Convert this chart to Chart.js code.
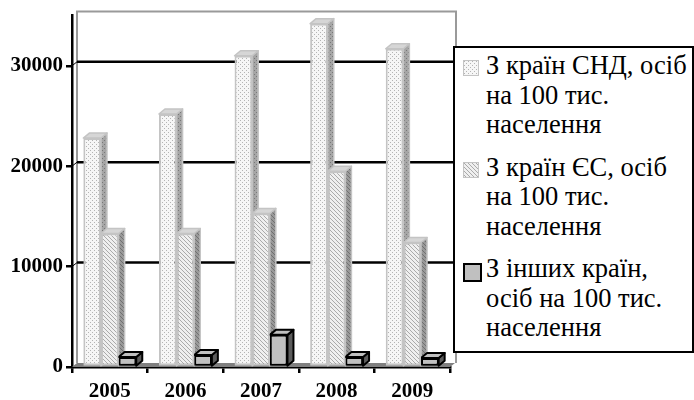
<!DOCTYPE html>
<html>
<head>
<meta charset="utf-8">
<script src="https://cdn.jsdelivr.net/npm/chart.js@4/dist/chart.umd.min.js"></script>
<style>
  body { margin: 0; background: #fff; }
  #wrap { position: relative; width: 694px; height: 400px; }
  #legend {
    position: absolute; left: 453px; top: 46px; width: 237px; height: 303px;
    border: 2px solid #000; background: #fff;
  }
  .item {
    position: relative; padding-left: 31px; margin-top: 3px; margin-bottom: 13px;
    font-family: "Liberation Serif", "Times New Roman", serif;
    font-size: 26.5px; line-height: 29.5px; color: #000;
  }
  .sw { position: absolute; left: 8px; top: 9px; width: 14px; height: 14px; border: 1.5px solid #c4c4c4; }
</style>
</head>
<body>
<div id="wrap">
  <canvas id="chart-bars"></canvas>
  <div id="legend"></div>
</div>
<script>
// data
const years = ["2005", "2006", "2007", "2008", "2009"];
const cisValues = [22800, 25200, 31000, 34200, 31700];
const euValues = [13300, 13300, 15300, 19500, 12400];
const otherValues = [1000, 1200, 3200, 1000, 900];
const yTicks = [0, 10000, 20000, 30000];
const legendLines = [
  ["З країн СНД, осіб", "на 100 тис.", "населення"],
  ["З країн ЄС, осіб", "на 100 тис.", "населення"],
  ["З інших країн,", "осіб на 100 тис.", "населення"]
];

// little fill textures like the old office patterns
function tile(bg, ink, kind) {
  var c = document.createElement("canvas");
  c.width = 4; c.height = 4;
  var g = c.getContext("2d");
  g.fillStyle = bg; g.fillRect(0, 0, 4, 4);
  g.fillStyle = ink;
  if (kind === "dots") {
    g.fillRect(0, 0, 1, 1); g.fillRect(2, 2, 1, 1);
  } else {
    for (var i = 0; i < 4; i++) g.fillRect(i, i, 1, 1);
  }
  return c;
}
var ctx = document.getElementById("chart-bars").getContext("2d");
var cisTile = tile("#f6f6f6", "#b4b4b4", "dots");
var euTile = tile("#efefef", "#aaaaaa", "hatch");
var cisFront = ctx.createPattern(cisTile, "repeat");
var euFront = ctx.createPattern(euTile, "repeat");
var cisSide = ctx.createPattern(tile("#a6a6a6", "#787878", "dots"), "repeat");
var euSide = ctx.createPattern(tile("#999999", "#707070", "hatch"), "repeat");

const faces = [
  { side: cisSide, top: "#d6d6d6", edge: "#c4c4c4", lw: 1.5 },
  { side: euSide, top: "#d6d6d6", edge: "#c4c4c4", lw: 1.5 },
  { side: "#5c5c5c", top: "#c0c0c0", edge: "#000", lw: 2 }
];

const DX = 6, DY = 5;   // bar depth
const WX = 5, WY = 4;   // back wall offset

const depth3d = {
  id: "depth3d",
  beforeDatasetsDraw(chart) {
    const c = chart.ctx;
    const xs = chart.scales.x, ys = chart.scales.y;
    const left = xs.left, right = xs.right;
    const bottom = ys.getPixelForValue(0), top = ys.top;
    c.save();
    // floor
    c.fillStyle = "#808080";
    c.beginPath();
    c.moveTo(left, bottom); c.lineTo(left + WX, bottom - WY);
    c.lineTo(right + WX, bottom - WY); c.lineTo(right, bottom);
    c.closePath(); c.fill();
    // wall
    c.strokeStyle = "#9a9a9a"; c.lineWidth = 2;
    c.beginPath();
    c.moveTo(left + WX, bottom - WY); c.lineTo(left + WX, top - WY);
    c.lineTo(right + WX + 1, top - WY); c.lineTo(right + WX + 1, bottom - WY);
    c.stroke();
    // grid on the back wall
    c.strokeStyle = "#000";
    yTicks.forEach(function (v) {
      if (!v) return;
      var py = ys.getPixelForValue(v);
      c.lineWidth = 2.5;
      c.beginPath(); c.moveTo(left + WX, py - WY); c.lineTo(right + WX + 1, py - WY); c.stroke();
      c.lineWidth = 1;
      c.beginPath(); c.moveTo(left, py); c.lineTo(left + WX, py - WY); c.stroke();
    });
    // sides and tops of the bars
    years.forEach(function (_, i) {
      for (var d = 0; d < chart.data.datasets.length; d++) {
        var bar = chart.getDatasetMeta(d).data[i];
        var p = bar.getProps(["x", "y", "base", "width"], true);
        var l = p.x - p.width / 2, r = p.x + p.width / 2, t = p.y, b = p.base;
        var f = faces[d];
        c.strokeStyle = f.edge; c.lineWidth = f.lw; c.lineJoin = "round";
        c.fillStyle = f.side;
        c.beginPath();
        c.moveTo(r, t); c.lineTo(r + DX, t - DY); c.lineTo(r + DX, b - DY); c.lineTo(r, b);
        c.closePath(); c.fill(); c.stroke();
        c.fillStyle = f.top;
        c.beginPath();
        c.moveTo(l, t); c.lineTo(l + DX, t - DY); c.lineTo(r + DX, t - DY); c.lineTo(r, t);
        c.closePath(); c.fill(); c.stroke();
      }
    });
    c.restore();
  }
};

const serif = "'Liberation Serif', 'Times New Roman', serif";

new Chart(ctx, {
  type: "bar",
  data: {
    labels: years,
    datasets: [
      { label: legendLines[0].join(" "), data: cisValues, backgroundColor: cisFront, borderColor: "#c4c4c4", borderWidth: 2, borderSkipped: false },
      { label: legendLines[1].join(" "), data: euValues, backgroundColor: euFront, borderColor: "#c4c4c4", borderWidth: 2, borderSkipped: false },
      { label: legendLines[2].join(" "), data: otherValues, backgroundColor: "#c0c0c0", borderColor: "#000", borderWidth: 2, borderSkipped: false }
    ]
  },
  options: {
    responsive: true,
    maintainAspectRatio: false,
    animation: false,
    layout: { padding: { top: 15, right: 244, left: 0, bottom: 0 } },
    plugins: { legend: { display: false }, tooltip: { enabled: false } },
    datasets: { bar: { barPercentage: 1, categoryPercentage: 0.7 } },
    scales: {
      x: {
        afterFit: function (s) { s.height = 33; },
        border: { display: true, color: "#000", width: 2.5 },
        grid: { display: true, drawOnChartArea: false, drawTicks: true, tickLength: 6, color: "#000", lineWidth: 2.5, offset: true },
        ticks: { color: "#000", padding: 6, font: { family: serif, size: 21, weight: "bold" } }
      },
      y: {
        min: 0,
        max: 35000,
        afterFit: function (s) { s.width = 72; },
        afterBuildTicks: function (s) { s.ticks = yTicks.map(function (v) { return { value: v }; }); },
        border: { display: true, color: "#000", width: 2.5 },
        grid: { display: true, drawOnChartArea: false, drawTicks: true, tickLength: 6, color: "#000", lineWidth: 2.5 },
        ticks: {
          color: "#000", padding: 3, font: { family: serif, size: 21, weight: "bold" },
          callback: function (v) { return String(v); }
        }
      }
    }
  },
  plugins: [depth3d]
});

// legend as html so it can wrap like the original
var swatchBg = [
  "url(" + cisTile.toDataURL() + ")",
  "url(" + euTile.toDataURL() + ")",
  "#c0c0c0"
];
var legendEl = document.getElementById("legend");
legendLines.forEach(function (lines, i) {
  var item = document.createElement("div");
  item.className = "item";
  var sw = document.createElement("span");
  sw.className = "sw";
  sw.style.background = swatchBg[i];
  if (i === 2) { sw.style.borderColor = "#000"; sw.style.borderWidth = "2px"; sw.style.width = "15px"; sw.style.height = "15px"; }
  item.appendChild(sw);
  var txt = document.createElement("div");
  txt.innerHTML = lines.join("<br>");
  item.appendChild(txt);
  legendEl.appendChild(item);
});
</script>
</body>
</html>
